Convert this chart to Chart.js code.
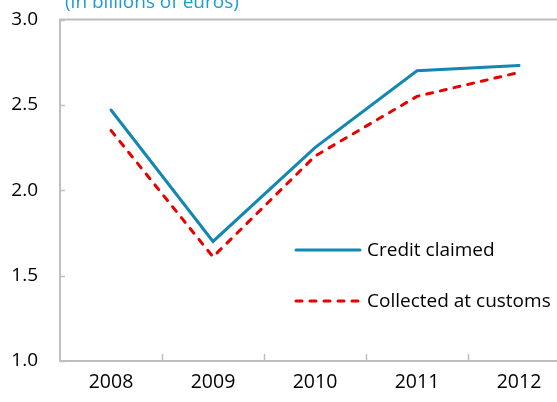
<!DOCTYPE html>
<html>
<head>
<meta charset="utf-8">
<script src="https://cdn.jsdelivr.net/npm/chart.js@4/dist/chart.umd.min.js"></script>
<style>
  html, body { margin: 0; padding: 0; background: #fff; overflow: hidden; }
  #wrap { width: 557px; height: 402px; overflow: hidden; position: relative; }
  canvas { display: block; }
</style>
</head>
<body>
<div id="wrap"><canvas id="c" width="575" height="402" style="width:575px;height:402px"></canvas></div>
<script>
// ---- data ----
const years = ['2008', '2009', '2010', '2011', '2012'];
const creditClaimed = [2.47, 1.70, 2.25, 2.70, 2.73];
const collectedAtCustoms = [2.35, 1.61, 2.20, 2.55, 2.69];
const yTicks = [1.0, 1.5, 2.0, 2.5, 3.0];
const seriesNames = ['Credit claimed', 'Collected at customs'];
const unitNote = '(in billions of euros)';

const FONT = "'Open Sans', 'DejaVu Sans', sans-serif";
const AXIS_GRAY = '#BEBEBE';

const framePlugin = {
  id: 'frame',
  beforeDatasetsDraw(chart) {
    const { ctx, chartArea: a, scales } = chart;
    ctx.save();
    ctx.strokeStyle = AXIS_GRAY;
    ctx.lineWidth = 2;
    ctx.beginPath();
    ctx.rect(a.left, a.top, a.right - a.left, a.bottom - a.top);
    ctx.stroke();
    ctx.beginPath();
    yTicks.forEach(v => {
      const y = Math.round(scales.y.getPixelForValue(v)) + 0.5;
      ctx.moveTo(a.left, y); ctx.lineTo(a.left + 5, y);
    });
    for (let i = 0; i < years.length - 1; i++) {
      const x = Math.round((scales.x.getPixelForValue(i) + scales.x.getPixelForValue(i + 1)) / 2) + 0.5;
      ctx.moveTo(x, a.bottom); ctx.lineTo(x, a.bottom - 7);
    }
    ctx.lineWidth = 1.5;
    ctx.stroke();
    ctx.restore();
  },
  afterDraw(chart) {
    const { ctx, chartArea: a } = chart;
    ctx.save();
    ctx.fillStyle = '#1E9BD7';
    ctx.font = '19px ' + FONT;
    ctx.textBaseline = 'alphabetic';
    ctx.textAlign = 'left';
    ctx.fillText(unitNote, 65, 8);
    const lx0 = a.left + 236, lx1 = a.left + 300;
    const rows = [250, 301];
    chart.data.datasets.forEach((ds, i) => {
      const y = rows[i];
      ctx.strokeStyle = ds.borderColor;
      ctx.lineWidth = ds.borderWidth;
      ctx.setLineDash(ds.borderDash || []);
      ctx.lineCap = 'round';
      ctx.beginPath();
      ctx.moveTo(lx0, y); ctx.lineTo(lx1, y);
      ctx.stroke();
      ctx.setLineDash([]);
      ctx.fillStyle = '#000';
      ctx.font = '19px ' + FONT;
      ctx.textBaseline = 'middle';
      ctx.fillText(ds.label, lx1 + 7, y + 1);
    });
    ctx.restore();
  }
};

new Chart(document.getElementById('c'), {
  type: 'line',
  data: {
    labels: years,
    datasets: [
      {
        label: seriesNames[0],
        data: creditClaimed,
        borderColor: '#1187B1',
        borderWidth: 3,
        borderCapStyle: 'round',
        borderJoinStyle: 'miter',
        pointRadius: 0,
        tension: 0,
        fill: false
      },
      {
        label: seriesNames[1],
        data: collectedAtCustoms,
        borderColor: '#E60000',
        borderWidth: 3,
        borderDash: [6, 8],
        borderCapStyle: 'round',
        borderJoinStyle: 'miter',
        pointRadius: 0,
        tension: 0,
        fill: false
      }
    ]
  },
  options: {
    responsive: false,
    animation: false,
    devicePixelRatio: 1,
    layout: { padding: { top: 19.5, right: 5, left: 0, bottom: 0 } },
    plugins: {
      legend: { display: false },
      tooltip: { enabled: false },
      title: { display: false }
    },
    scales: {
      x: {
        type: 'category',
        offset: true,
        grid: { display: false, drawTicks: false },
        border: { display: false },
        ticks: {
          color: '#000',
          font: { family: FONT, size: 19.5 },
          padding: 10,
          maxRotation: 0
        },
        afterFit(s) { s.height = 41; s.paddingLeft = 0; s.paddingRight = 0; }
      },
      y: {
        min: 1,
        max: 3,
        afterBuildTicks(s) { s.ticks = yTicks.map(v => ({ value: v })); },
        grid: { display: false, drawTicks: false },
        border: { display: false },
        ticks: {
          color: '#000',
          font: { family: FONT, size: 19 },
          padding: 22,
          callback: v => Number(v).toFixed(1)
        },
        afterFit(s) { s.width = 60; s.paddingTop = 0; s.paddingBottom = 0; }
      }
    }
  },
  plugins: [framePlugin]
});
</script>
</body>
</html>
